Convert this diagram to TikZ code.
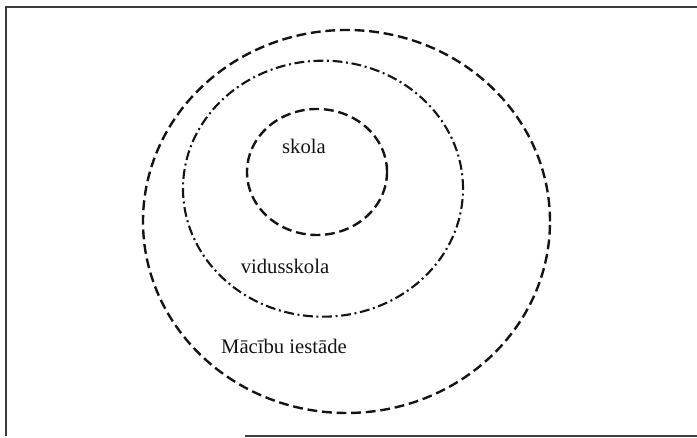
\documentclass[tikz,border=0pt]{standalone}
\usepackage{fontspec}
\setmainfont{Liberation Serif}
\usepackage{xcolor}
\usepackage{tikz}
\usetikzlibrary{positioning}
\definecolor{mydark}{RGB}{20,20,20}
\definecolor{myframe}{RGB}{60,60,60}
\tikzset{
  dashring/.style={draw=mydark, line width=1.7pt,
    dash pattern=on 7pt off 3.4pt},
  dotring/.style={draw=mydark, line width=1.5pt,
    dash pattern=on 7pt off 2.6pt on 1.4pt off 2.6pt},
  framerule/.style={draw=myframe, line width=1pt},
  lbl/.style={font=\fontsize{14.7}{17}\selectfont, text=mydark, inner sep=0pt}
}

\begin{document}
\begin{tikzpicture}
  \useasboundingbox (0,0) rectangle (17.425,10.95);
  % Frame
  \draw[framerule] (0.125,10.775) -- (17.425,10.775);
  \draw[framerule] (0.15,10.75) -- (0.15,0.05);
  \draw[framerule] (6.125,0.05) -- (17.425,0.05);
  % Rings
  \draw[dashring] (8.6625,5.4125) ellipse (5.0875 and 4.7875);
  \draw[dotring] (8.075,6.2325) ellipse (3.5 and 3.2);
  \draw[dashring] (7.925,6.65) ellipse (1.75 and 1.575);
  % Labels
  \node[lbl] (skola) at (7.6,7.29) {skola};
  \node[lbl] (vidus) at (7.125,4.29) {vidusskola};
  \node[lbl] (iestade) at (7.1,2.28) {Mācību iestāde};
\end{tikzpicture}
\end{document}
